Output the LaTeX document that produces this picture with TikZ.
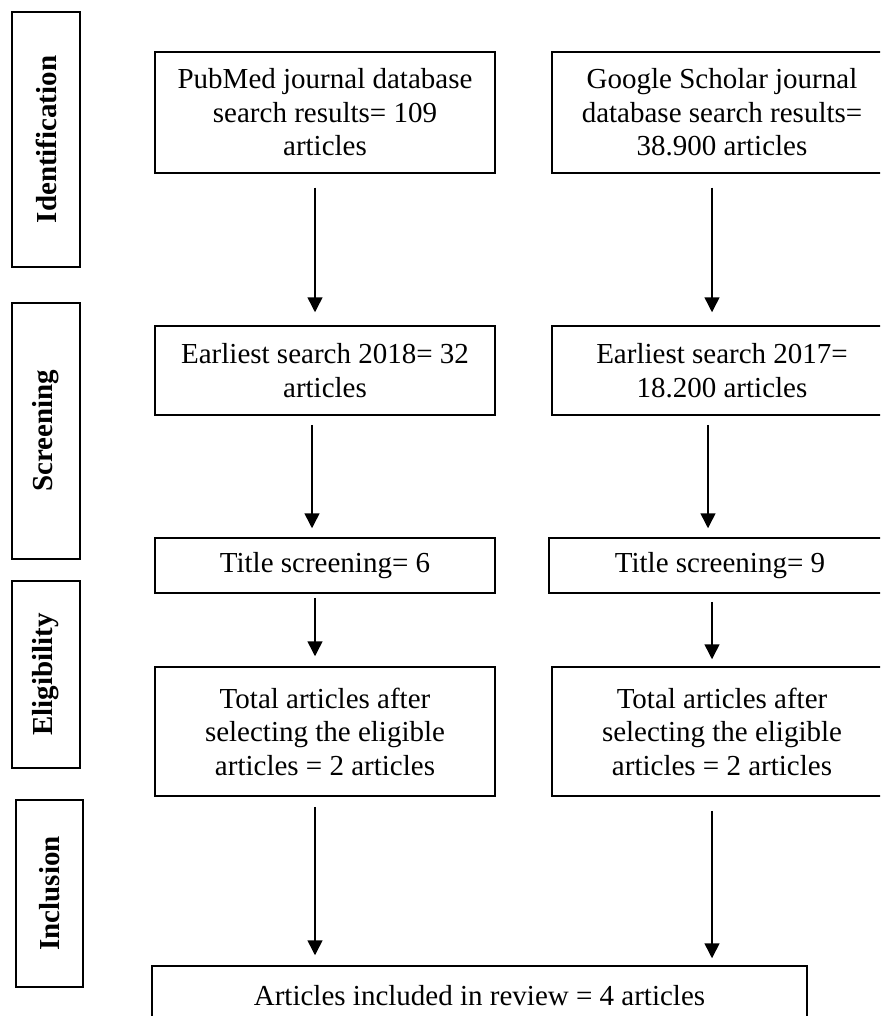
\documentclass[tikz,border=0pt]{standalone}
\usepackage{fontspec}
\setmainfont{Liberation Serif}
\usetikzlibrary{arrows.meta}
\tikzset{
  box/.style={draw=black, line width=1.5pt, inner sep=0pt, align=center,
    font=\fontsize{29}{33.5}\selectfont},
  phase/.style={draw=black, line width=1.5pt, inner sep=0pt, rotate=90,
    minimum height=68pt, font=\fontsize{29}{33.5}\selectfont\bfseries},
  flow/.style={line width=1.5pt, -{Triangle[length=15pt,width=15pt]}},
}
\begin{document}
\begin{tikzpicture}[x=1pt,y=-1pt]
\clip (0,0) rectangle (880,1016);
\fill[white] (0,0) rectangle (880,1016);
% phase labels
\node[phase, minimum width=255pt] (idf) at (46,139.5) {Identification};
\node[phase, minimum width=256pt] (scr) at (46,431) {Screening};
\node[phase, minimum width=187pt] (eli) at (46,674.5) {Eligibility};
\node[phase, minimum width=187pt, minimum height=67pt] (inc) at (49.5,893.5) {Inclusion};
% left column
\node[box, minimum width=340pt, minimum height=121pt] (pub) at (325,112.5)
  {PubMed journal database\\search results= 109\\articles};
\node[box, minimum width=340pt, minimum height=89pt] (e18) at (325,370.5)
  {Earliest search 2018= 32\\articles};
\node[box, minimum width=340pt, minimum height=55pt] (t6) at (325,565.5)
  {Title screening= 6};
\node[box, minimum width=340pt, minimum height=129pt] (tl) at (325,731.5)
  {Total articles after\\selecting the eligible\\articles = 2 articles};
% right column
\node[box, minimum width=340pt, minimum height=121pt] (gs) at (722,112.5)
  {Google Scholar journal\\database search results=\\38.900 articles};
\node[box, minimum width=340pt, minimum height=89pt] (e17) at (722,370.5)
  {Earliest search 2017=\\18.200 articles};
\node[box, minimum width=342pt, minimum height=55pt] (t9) at (720,565.5)
  {Title screening= 9};
\node[box, minimum width=340pt, minimum height=129pt] (tr) at (722,731.5)
  {Total articles after\\selecting the eligible\\articles = 2 articles};
% final
\node[box, minimum width=655pt, minimum height=60pt] (fin) at (479.5,996)
  {Articles included in review = 4 articles};
% arrows left
\draw[flow, shorten <=14pt, shorten >=13pt] (pub.south -| 315,0) -- (e18.north -| 315,0);
\draw[flow, shorten <=9pt, shorten >=9pt] (e18.south -| 312,0) -- (t6.north -| 312,0);
\draw[flow, shorten <=4pt, shorten >=10pt] (t6.south -| 315,0) -- (tl.north -| 315,0);
\draw[flow, shorten <=10pt, shorten >=10pt] (tl.south -| 315,0) -- (fin.north -| 315,0);
% arrows right
\draw[flow, shorten <=14pt, shorten >=13pt] (gs.south -| 712,0) -- (e17.north -| 712,0);
\draw[flow, shorten <=9pt, shorten >=9pt] (e17.south -| 708,0) -- (t9.north -| 708,0);
\draw[flow, shorten <=8pt, shorten >=7pt] (t9.south -| 712,0) -- (tr.north -| 712,0);
\draw[flow, shorten <=14pt, shorten >=7pt] (tr.south -| 712,0) -- (fin.north -| 712,0);
\end{tikzpicture}
\end{document}
